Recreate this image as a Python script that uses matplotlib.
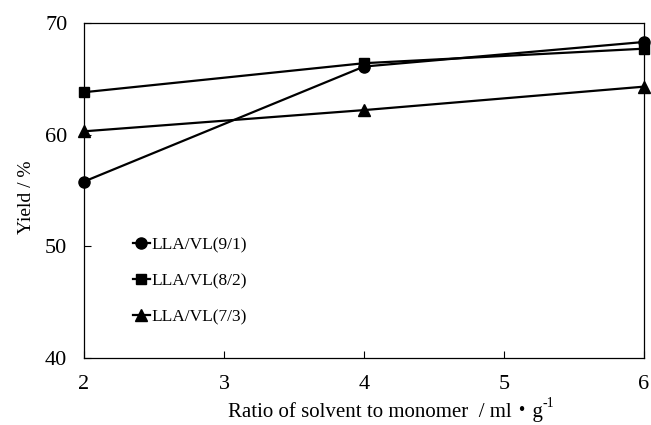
import matplotlib
matplotlib.use("Agg")
from matplotlib import pyplot as plt

plt.rcParams['font.family'] = ['Liberation Serif', 'Noto Sans CJK JP', 'DejaVu Serif']

# data
ratio = [2, 4, 6]
yield_91 = [55.8, 66.1, 68.3]
yield_82 = [63.8, 66.4, 67.7]
yield_73 = [60.3, 62.2, 64.3]
labels = ['LLA/VL(9/1)', 'LLA/VL(8/2)', 'LLA/VL(7/3)']

fig = plt.figure(figsize=(6.51, 4.25), dpi=100)
ax = fig.add_axes([84/651, 1-358/425, 560/651, 335/425])

ax.plot(ratio, yield_91, color='black', lw=1.6, marker='o', ms=8, label=labels[0], clip_on=False)
ax.plot(ratio, yield_82, color='black', lw=1.6, marker='s', ms=7.5, label=labels[1], clip_on=False)
ax.plot(ratio, yield_73, color='black', lw=1.6, marker='^', ms=8, label=labels[2], clip_on=False)

ax.set_xlim(2, 6)
ax.set_ylim(40, 70)
ax.set_xticks([2, 3, 4, 5, 6])
ax.set_yticks([40, 50, 60, 70])
ax.tick_params(direction='in', length=5, width=0.8, labelsize=16, pad=12)
for s in ax.spines.values():
    s.set_linewidth(0.9)

ax.set_ylabel('Yield / %', fontsize=14)
ax.yaxis.set_label_coords(-0.088, 0.48)

# x label: main text plus a small superscript after it
xl = fig.text(228/651, 1-417/425, 'Ratio of solvent to monomer  / ml\u30fbg',
              fontsize=15, ha='left', va='baseline')
ax.annotate('-1', xy=(1.0, 0.62), xycoords=xl, fontsize=10, ha='left', va='bottom')

ax.legend(loc='upper left', bbox_to_anchor=(0.087, 0.36), frameon=False,
          handlelength=1.0, handletextpad=0.1, labelspacing=1.13, fontsize=12.5,
          borderaxespad=0, borderpad=0)

fig.savefig('out.png', dpi=100)
